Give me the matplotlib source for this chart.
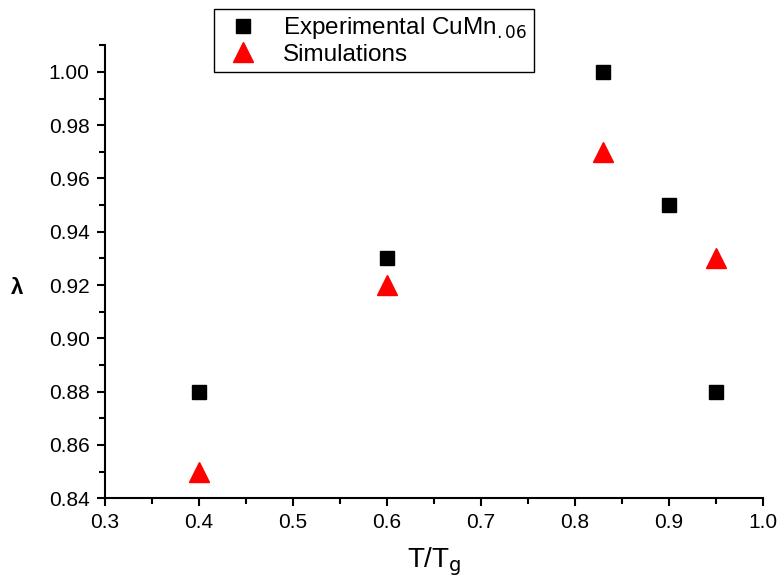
import matplotlib
matplotlib.use("Agg")
import matplotlib.pyplot as plt
from matplotlib.ticker import MultipleLocator

# data
exp_x = [0.4, 0.6, 0.83, 0.9, 0.95]
exp_y = [0.88, 0.93, 1.00, 0.95, 0.88]
sim_x = [0.4, 0.6, 0.83, 0.95]
sim_y = [0.85, 0.92, 0.97, 0.93]

plt.rcParams.update({"font.family": ["Liberation Sans", "DejaVu Sans"]})

fig = plt.figure(figsize=(7.77, 5.8), dpi=100)
ax = fig.add_axes([0.135, 0.141, 0.847, 0.781])

ax.plot(exp_x, exp_y, "s", color="black", ms=10.5, ls="none",
        label="Experimental CuMn$_{.06}$")
ax.plot(sim_x, sim_y, "^", color="red", ms=14, ls="none", label="Simulations")

ax.set_xlim(0.3, 1.0)
ax.set_ylim(0.84, 1.01)
ax.xaxis.set_major_locator(MultipleLocator(0.1))
ax.xaxis.set_minor_locator(MultipleLocator(0.05))
ax.yaxis.set_major_locator(MultipleLocator(0.02))
ax.yaxis.set_minor_locator(MultipleLocator(0.01))
ax.xaxis.set_major_formatter(plt.FormatStrFormatter("%.1f"))
ax.yaxis.set_major_formatter(plt.FormatStrFormatter("%.2f"))

for s in ("top", "right"):
    ax.spines[s].set_visible(False)
for s in ("left", "bottom"):
    ax.spines[s].set_linewidth(1.5)
ax.tick_params(which="major", length=6, width=1.5, labelsize=15,
               direction="out", pad=5)
ax.tick_params(which="minor", length=4.5, width=1.5, direction="out")

ax.set_xlabel("T/T$_\\mathrm{g}$", fontsize=20)
ax.xaxis.set_label_coords(0.5, -0.105)
ax.set_ylabel("λ", fontsize=16, fontweight="bold", rotation=0)
ax.yaxis.set_label_coords(-0.134, 0.44)

leg = fig.legend(loc="upper left", bbox_to_anchor=(214/777, 1 - 9/580),
                 fontsize=17.5, frameon=True, fancybox=False, edgecolor="black",
                 framealpha=1, borderpad=0.25, labelspacing=0.1,
                 handletextpad=0.7, borderaxespad=0, handlelength=1.9)
leg.get_frame().set_linewidth(1.0)

fig.savefig("out.png", dpi=100)
